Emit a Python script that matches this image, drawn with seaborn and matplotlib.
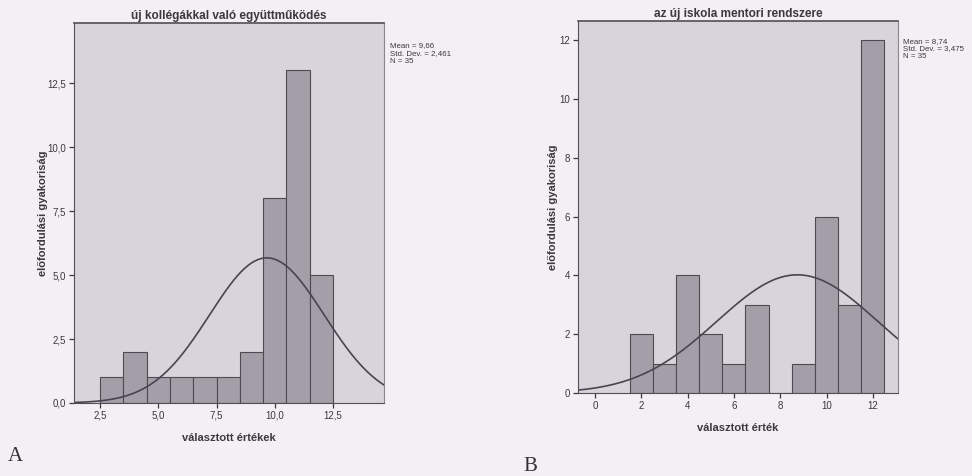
import numpy as np
import pandas as pd
import matplotlib
matplotlib.use("Agg")
import matplotlib.pyplot as plt
import seaborn as sns

# ---- data ----
a_values = [3, 4, 5, 6, 7, 8, 9, 10, 11, 12]
a_counts = [1, 2, 1, 1, 1, 1, 2, 8, 13, 5]
a_mean, a_std, a_n = 9.66, 2.461, 35
a_title = "új kollégákkal való együttműködés"
a_xlabel = "választott értékek"
a_xticks = [2.5, 5.0, 7.5, 10.0, 12.5]
a_yticks = [0.0, 2.5, 5.0, 7.5, 10.0, 12.5]

b_values = [2, 3, 4, 5, 6, 7, 8, 9, 10, 11, 12]
b_counts = [2, 1, 4, 2, 1, 3, 0, 1, 6, 3, 12]
b_mean, b_std, b_n = 8.74, 3.475, 35
b_title = "az új iskola mentori rendszere"
b_xlabel = "választott érték"
b_xticks = [0, 2, 4, 6, 8, 10, 12]
b_yticks = [0, 2, 4, 6, 8, 10, 12]

ylabel = "előfordulási gyakoriság"

sns.set_style("white")
plt.rcParams["font.family"] = ["Liberation Sans", "DejaVu Sans"]

PAGE = "#f4eef5"
PLOT_BG = "#d9d4dc"
BAR = "#a39ea7"
EDGE = "#4d4a50"
CURVE = "#4a4450"
TXT = "#3a3a3a"

fig = plt.figure(figsize=(9.72, 4.76), dpi=100)
fig.patch.set_facecolor(PAGE)


def comma(v, dec):
    return (f"{v:.{dec}f}").replace(".", ",")


def draw(ax, values, counts, mean, std, n, title, xlabel, xticks, yticks,
         xlim, ylim, dec, panel_label, lx, ly, stats_xy, ypad):
    df = pd.DataFrame({"v": values, "c": counts})
    sns.histplot(data=df, x="v", weights="c", binwidth=1,
                 binrange=(min(values) - 0.5, max(values) + 0.5), ax=ax,
                 color=BAR, alpha=1, edgecolor=EDGE, linewidth=0.8)
    xs = np.linspace(xlim[0], xlim[1], 400)
    ys = n * 1.0 / (std * np.sqrt(2 * np.pi)) * np.exp(-0.5 * ((xs - mean) / std) ** 2)
    sns.lineplot(x=xs, y=ys, ax=ax, color=CURVE, linewidth=1.2)
    ax.set_facecolor(PLOT_BG)
    ax.set_xlim(*xlim)
    ax.set_ylim(*ylim)
    ax.set_xticks(xticks)
    ax.set_xticklabels([comma(t, dec) for t in xticks])
    ax.set_yticks(yticks)
    ax.set_yticklabels([comma(t, dec) for t in yticks])
    ax.tick_params(axis="both", which="major", bottom=True, left=True,
                   direction="out", length=3.5, width=0.9,
                   labelsize=7, colors=TXT, pad=2)
    for s in ax.spines.values():
        s.set_color("#505050")
        s.set_linewidth(0.8)
    ax.spines["top"].set_linewidth(1.2)
    ax.spines["right"].set_color("#8a868c")
    ax.set_xlabel(xlabel, fontsize=8, fontweight="bold", color=TXT, labelpad=9)
    ax.set_ylabel(ylabel, fontsize=8, fontweight="bold", color=TXT, labelpad=ypad)
    ax.set_title(title, fontsize=8.5, fontweight="bold", color=TXT, pad=3)
    ax.text(stats_xy[0], stats_xy[1],
            f"Mean = {comma(mean, 2)}\nStd. Dev. = {comma(std, 3)}\nN = {n}",
            transform=ax.transAxes, fontsize=5.7, color=TXT, va="top",
            ha="left", linespacing=1.15)
    fig.text(lx, ly, panel_label, fontsize=15, family="Liberation Serif",
             color="#333333", ha="left", va="center")


ax1 = fig.add_axes([0.0761, 0.1534, 0.319, 0.798])
draw(ax1, a_values, a_counts, a_mean, a_std, a_n, a_title, a_xlabel,
     a_xticks, a_yticks, (1.38, 14.69), (0, 14.85), 1, "A", 0.008, 0.04,
     (1.02, 0.95), 0)

ax2 = fig.add_axes([0.5947, 0.1744, 0.329, 0.7815])
draw(ax2, b_values, b_counts, b_mean, b_std, b_n, b_title, b_xlabel,
     b_xticks, b_yticks, (-0.73, 13.08), (0, 12.65), 0, "B", 0.538, 0.02,
     (1.015, 0.955), 1.5)

fig.savefig("out.png", dpi=100, facecolor=PAGE)
